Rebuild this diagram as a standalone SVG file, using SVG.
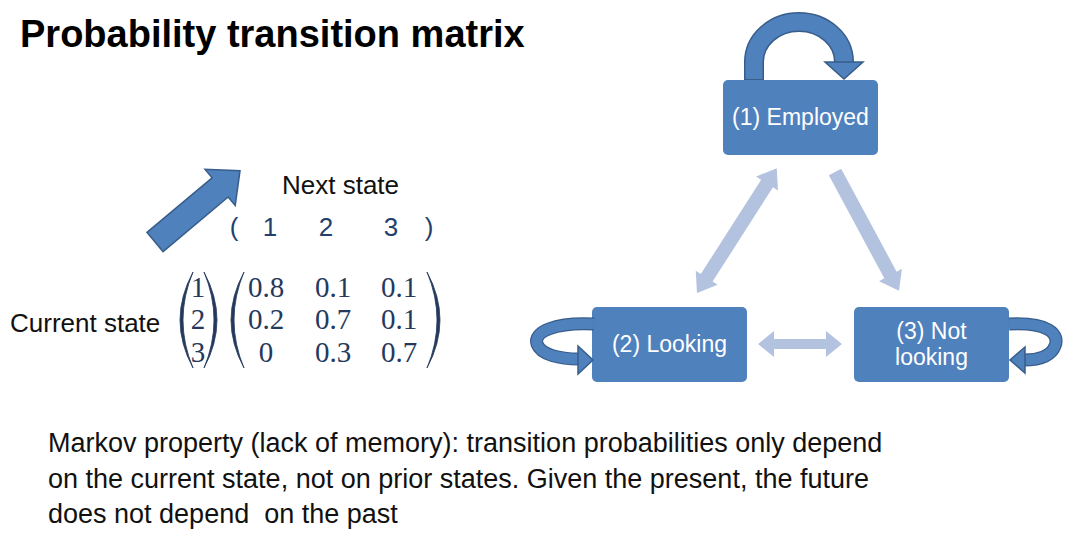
<svg xmlns="http://www.w3.org/2000/svg" width="1080" height="550" viewBox="0 0 1080 550">
  <style>
    .title { font-family: "Liberation Sans", Arial, sans-serif; font-weight: bold; font-size: 38px; fill: #000; }
    .lbl { font-family: "Liberation Sans", Arial, sans-serif; font-size: 26px; fill: #111; }
    .hdr { font-family: "Liberation Sans", Arial, sans-serif; font-size: 26px; fill: #243F6B; text-anchor: middle; }
    .mat { font-family: "Liberation Serif", "Times New Roman", serif; font-size: 29px; fill: #25395C; text-anchor: middle; }
    .paren { fill: #25395C; stroke: #25395C; stroke-width: 0.8; }
    .node rect { fill: #4F81BD; }
    .node text { font-family: "Liberation Sans", Arial, sans-serif; font-size: 23px; fill: #FFFFFF; text-anchor: middle; }
    .light { fill: #B3C3DF; }
    .bigarrow { fill: #4F81BD; stroke: #385D8A; stroke-width: 1.5; stroke-linejoin: miter; }
    .loopout { fill: none; stroke: #385D8A; }
    .loopin { fill: none; stroke: #4F81BD; }
    .body { font-family: "Liberation Sans", Arial, sans-serif; font-size: 27px; fill: #111; }
  </style>
  <rect width="1080" height="550" fill="#FFFFFF"/>

  <text class="title" x="20" y="47">Probability transition matrix</text>

  <g id="matrix">
    <g transform="translate(155,242) rotate(-40)">
      <polygon class="bigarrow" points="0,-12.5 85,-12.5 85,-23.5 111,0 85,23.5 85,12.5 0,12.5"/>
    </g>
    <text class="lbl" x="282" y="194">Next state</text>
    <text class="hdr" x="234" y="236">(</text>
    <text class="hdr" x="270" y="236">1</text>
    <text class="hdr" x="326" y="236">2</text>
    <text class="hdr" x="391" y="236">3</text>
    <text class="hdr" x="429" y="236">)</text>
    <text class="lbl" x="10" y="332">Current state</text>
    <path class="paren" d="M193,272 Q167,320 193,368 Q173,320 193,272 Z"/>
    <path class="paren" d="M204,272 Q230,320 204,368 Q224,320 204,272 Z"/>
    <path class="paren" d="M244,272 Q218,320 244,368 Q224,320 244,272 Z"/>
    <path class="paren" d="M427,272 Q453,320 427,368 Q447,320 427,272 Z"/>
    <text class="mat" x="198" y="297">1</text>
    <text class="mat" x="198" y="329">2</text>
    <text class="mat" x="198" y="362">3</text>
    <text class="mat" x="266" y="297">0.8</text>
    <text class="mat" x="333" y="297">0.1</text>
    <text class="mat" x="399" y="297">0.1</text>
    <text class="mat" x="266" y="329">0.2</text>
    <text class="mat" x="333" y="329">0.7</text>
    <text class="mat" x="399" y="329">0.1</text>
    <text class="mat" x="266" y="362">0</text>
    <text class="mat" x="333" y="362">0.3</text>
    <text class="mat" x="399" y="362">0.7</text>
  </g>

  <g id="node-employed" class="node">
    <rect x="723" y="80" width="155" height="75" rx="5"/>
    <text x="800.5" y="125">(1) Employed</text>
  </g>
  <g id="node-looking" class="node">
    <rect x="592" y="307" width="155" height="75" rx="5"/>
    <text x="669.5" y="352">(2) Looking</text>
  </g>
  <g id="node-notlooking" class="node">
    <rect x="854" y="307" width="155" height="75" rx="5"/>
    <text x="931.5" y="339">(3) Not</text>
    <text x="931.5" y="365">looking</text>
  </g>

  <g id="connectors">
    <g transform="translate(697,293) rotate(-57.4)">
      <polygon class="light" points="0,0 18,-13 18,-7 130,-7 130,-13 148,0 130,13 130,7 18,7 18,13"/>
    </g>
    <g transform="translate(835,172) rotate(61.7)">
      <polygon class="light" points="0,-7 117,-7 117,-13 135,0 117,13 117,7 0,7"/>
    </g>
    <polygon class="light" points="758,344 774,331 774,339 826,339 826,331 842,344 826,357 826,349 774,349 774,357"/>

    <path class="loopout" stroke-width="20" d="M754,80 L754,62 A45,40 0 0 1 844,62"/>
    <path class="loopin" stroke-width="17" d="M754,79 L754,62 A45,40 0 0 1 844,62"/>
    <polygon class="bigarrow" points="825,62 863,62 844,79"/>

    <path class="loopout" stroke-width="13" d="M594,324 C555,322 533,332 537,344 C541,355 560,359 579,359"/>
    <path class="loopin" stroke-width="10.5" d="M594,324 C555,322 533,332 537,344 C541,355 560,359 579,359"/>
    <polygon class="bigarrow" points="578,346 593,360 578,374"/>

    <path class="loopout" stroke-width="13" d="M1009,324 C1048,322 1060,334 1055,346 C1051,356 1040,360 1024,360"/>
    <path class="loopin" stroke-width="10.5" d="M1009,324 C1048,322 1060,334 1055,346 C1051,356 1040,360 1024,360"/>
    <polygon class="bigarrow" points="1025,347 1010,360 1025,373"/>
  </g>

  <g id="caption">
    <text class="body" x="48" y="452">Markov property (lack of memory): transition probabilities only depend</text>
    <text class="body" x="48" y="488">on the current state, not on prior states. Given the present, the future</text>
    <text class="body" x="48" y="523" xml:space="preserve">does not depend  on the past</text>
  </g>
</svg>
